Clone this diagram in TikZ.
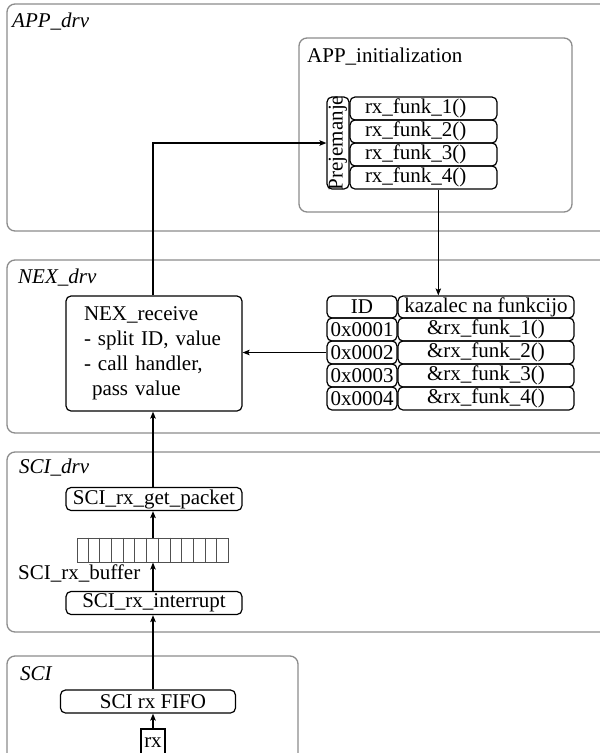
\documentclass[tikz,border=0pt]{standalone}
\usepackage{fontspec}
\setmainfont{Liberation Serif}
\usetikzlibrary{arrows.meta,calc}
\definecolor{grpc}{RGB}{140,140,140}
\definecolor{bufc}{RGB}{80,80,80}
\begin{document}
\begin{tikzpicture}[x=1pt,y=-1pt,
  font=\fontsize{21}{25}\selectfont,
  grp/.style={draw=grpc, line width=1.3pt, rounded corners=8pt},
  cell/.style={draw, line width=1.2pt, rounded corners=5pt, inner sep=0pt, minimum height=23pt},
  arr/.style={line width=1.2pt, -{Stealth[length=7pt,width=5.5pt,inset=1.5pt]}},
  lbl/.style={anchor=base west, inner sep=0pt},
]
\useasboundingbox (0,0) rectangle (600,753);
\clip (0,0) rectangle (600,753);

% groups
\draw[grp] (7,4) rectangle (620,231);
\node[lbl] (lapp) at (12,27) {\itshape APP\_drv};
\draw[grp] (299,38) rectangle (572,212);
\node[lbl] (linit) at (307,62) {APP\_initialization};
\draw[grp] (7,260) rectangle (620,433);
\node[lbl] (lnex) at (18,283) {\itshape NEX\_drv};
\draw[grp] (7,452) rectangle (620,632);
\node[lbl] (lscid) at (19,473) {\itshape SCI\_drv};
\draw[grp] (7,656) rectangle (298,780);
\node[lbl] (lsci) at (20,680) {\itshape SCI};

% APP_initialization contents
\node[cell, minimum width=22pt, minimum height=92pt] (prej) at (338,143) {};
\node[rotate=90, inner sep=0pt] (prejt) at (prej.center) {Prejemanje};
\foreach \i/\y in {1/108.5,2/131.5,3/154.5,4/177.5}{
  \node[cell, text width=117pt, inner xsep=15pt, align=left] (f\i) at (423.5,\y) {rx\_funk\_\i()};
}

% NEX_drv contents
\node[cell, minimum width=176pt, minimum height=115pt, text width=140pt, inner xsep=18pt, align=left] (nex) at (154,353.5)
  {NEX\_receive\\- split ID, value\\- call handler,\\\hspace*{8pt}pass value};
\node[cell, minimum width=70pt, minimum height=22pt] (h1) at (362,307) {ID};
\node[cell, minimum width=176pt, minimum height=22pt] (h2) at (486,307) {kazalec na funkcijo};
\foreach \i/\y in {1/329.5,2/352.5,3/375.5,4/398.5}{
  \node[cell, minimum width=70pt] (i\i) at (362,\y) {0x000\i};
  \node[cell, minimum width=176pt] (p\i) at (486,\y) {\&rx\_funk\_\i()};
}

% SCI_drv contents
\node[cell, minimum width=176pt] (getp) at (154,499) {SCI\_rx\_get\_packet};
\node[draw=bufc, line width=1pt, inner sep=0pt, minimum width=151pt, minimum height=24pt] (buf) at (152.5,550) {};
\foreach \k in {1,...,12}{
  \draw[bufc, line width=1pt] ($(buf.north west)!\k/13!(buf.north east)$) -- ($(buf.south west)!\k/13!(buf.south east)$);
}
\node[lbl] (lbuf) at (18,579) {SCI\_rx\_buffer};
\node[cell, minimum width=176pt] (intr) at (154,603) {SCI\_rx\_interrupt};

% SCI contents
\node[cell, minimum width=175pt] (fifo) at (148,701.5) {\hspace*{10pt}SCI rx FIFO};
\node[draw, line width=1.2pt, inner sep=0pt, minimum width=24pt, minimum height=28pt] (rx) at (153,743) {rx};

% connectors
\coordinate (fx) at ($(f4.south west)!0.6!(f4.south east)$);
\draw[arr] (fx) -- (fx |- h2.north);
\draw[arr] (i2.west) -- (i2.west -| nex.east);
\draw[arr] (nex.north -| rx.north) |- (prej.west);
\draw[arr] (rx.north) -- (rx.north |- fifo.south);
\draw[arr] (rx.north |- fifo.north) -- (rx.north |- intr.south);
\draw[arr] (rx.north |- intr.north) -- (rx.north |- buf.south);
\draw[arr] (rx.north |- buf.north) -- (rx.north |- getp.south);
\draw[arr] (rx.north |- getp.north) -- (rx.north |- nex.south);
\end{tikzpicture}
\end{document}
